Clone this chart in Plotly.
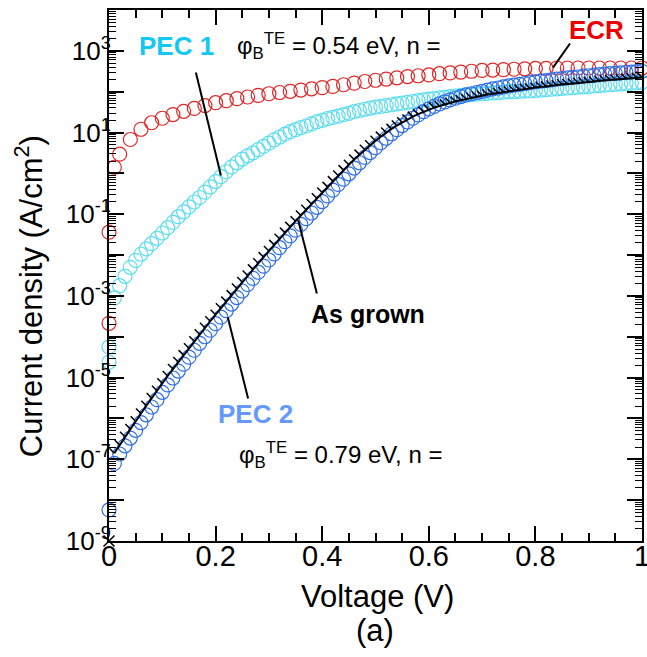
import plotly.graph_objects as go

# ---------------- data (log10 of current density, A/cm^2) ----------------
V_FINE = [0.01, 0.02, 0.03, 0.04, 0.05, 0.06, 0.07, 0.08, 0.09, 0.10,
          0.11, 0.12, 0.13, 0.14, 0.15, 0.16, 0.17, 0.18, 0.19, 0.20,
          0.21, 0.22, 0.23, 0.24, 0.25, 0.26, 0.27, 0.28, 0.29, 0.30,
          0.31, 0.32, 0.33, 0.34, 0.35, 0.36, 0.37, 0.38, 0.39, 0.40,
          0.41, 0.42, 0.43, 0.44, 0.45, 0.46, 0.47, 0.48, 0.49, 0.50,
          0.51, 0.52, 0.53, 0.54, 0.55, 0.56, 0.57, 0.58, 0.59, 0.60,
          0.61, 0.62, 0.63, 0.64, 0.65, 0.66, 0.67, 0.68, 0.69, 0.70,
          0.71, 0.72, 0.73, 0.74, 0.75, 0.76, 0.77, 0.78, 0.79, 0.80,
          0.81, 0.82, 0.83, 0.84, 0.85, 0.86, 0.87, 0.88, 0.89, 0.90,
          0.91, 0.92, 0.93, 0.94, 0.95, 0.96, 0.97, 0.98, 0.99, 1.00]

ECR_V = [0.01, 0.02, 0.04, 0.06, 0.08, 0.10, 0.12, 0.14, 0.16, 0.18, 0.20,
         0.22, 0.24, 0.26, 0.28, 0.30, 0.32, 0.34, 0.36, 0.38, 0.40,
         0.42, 0.44, 0.46, 0.48, 0.50, 0.52, 0.54, 0.56, 0.58, 0.60,
         0.62, 0.64, 0.66, 0.68, 0.70, 0.72, 0.74, 0.76, 0.78, 0.80,
         0.82, 0.84, 0.86, 0.88, 0.90, 0.92, 0.94, 0.96, 0.98, 1.00]
ECR_LOG = [0.15, 0.47, 0.83, 1.08, 1.24, 1.35, 1.44, 1.52, 1.59, 1.66, 1.73,
           1.78, 1.83, 1.87, 1.91, 1.95, 1.98, 2.01, 2.04, 2.07, 2.10,
           2.13, 2.17, 2.21, 2.25, 2.28, 2.31, 2.34, 2.37, 2.39, 2.41,
           2.44, 2.46, 2.48, 2.50, 2.52, 2.53, 2.54, 2.55, 2.56, 2.57,
           2.57, 2.58, 2.58, 2.58, 2.58, 2.58, 2.58, 2.58, 2.58, 2.58]
ECR_V0 = [0.0, 0.0]
ECR_LOG0 = [-1.44, -3.67]

PEC1_LOG = [-3.05, -2.75, -2.52, -2.30, -2.13, -1.98, -1.85, -1.72, -1.59, -1.46,
            -1.33, -1.20, -1.06, -0.94, -0.82, -0.70, -0.59, -0.46, -0.33, -0.20,
            -0.08, 0.04, 0.16, 0.26, 0.35, 0.43, 0.50, 0.58, 0.66, 0.74,
            0.82, 0.89, 0.96, 1.02, 1.07, 1.12, 1.16, 1.21, 1.26, 1.30,
            1.34, 1.37, 1.40, 1.44, 1.47, 1.51, 1.54, 1.57, 1.60, 1.62,
            1.64, 1.66, 1.68, 1.70, 1.72, 1.74, 1.76, 1.78, 1.80, 1.82,
            1.83, 1.85, 1.86, 1.88, 1.89, 1.91, 1.92, 1.93, 1.94, 1.95,
            1.96, 1.97, 1.98, 1.99, 2.00, 2.00, 2.01, 2.02, 2.02, 2.03,
            2.04, 2.05, 2.06, 2.07, 2.08, 2.09, 2.10, 2.11, 2.12, 2.13,
            2.14, 2.15, 2.16, 2.17, 2.18, 2.19, 2.20, 2.21, 2.22, 2.23]
PEC1_V0 = [0.0, 0.0]
PEC1_LOG0 = [-4.25, -4.62]

PEC2_LOG = [-7.10, -6.87, -6.67, -6.48, -6.29, -6.10, -5.91, -5.72, -5.54, -5.36,
            -5.18, -5.01, -4.84, -4.67, -4.50, -4.33, -4.16, -4.00, -3.84, -3.68,
            -3.52, -3.36, -3.20, -3.04, -2.88, -2.72, -2.57, -2.42, -2.27, -2.12,
            -1.97, -1.82, -1.67, -1.53, -1.39, -1.25, -1.11, -0.97, -0.83, -0.69,
            -0.55, -0.41, -0.27, -0.14, -0.01, 0.13, 0.26, 0.39, 0.51, 0.63,
            0.75, 0.86, 0.97, 1.07, 1.17, 1.26, 1.35, 1.43, 1.51, 1.58,
            1.64, 1.70, 1.75, 1.80, 1.84, 1.88, 1.92, 1.95, 1.98, 2.01,
            2.04, 2.07, 2.09, 2.12, 2.14, 2.16, 2.18, 2.20, 2.22, 2.24,
            2.26, 2.27, 2.29, 2.31, 2.32, 2.34, 2.35, 2.36, 2.38, 2.39,
            2.40, 2.42, 2.43, 2.44, 2.45, 2.46, 2.47, 2.48, 2.49, 2.50]
PEC2_V0 = [0.0]
PEC2_LOG0 = [-8.24]

ASG_LOG = [-6.85, -6.65, -6.45, -6.26, -6.07, -5.88, -5.69, -5.50, -5.32, -5.14,
           -4.96, -4.79, -4.62, -4.45, -4.28, -4.11, -3.94, -3.78, -3.62, -3.46,
           -3.30, -3.14, -2.98, -2.82, -2.66, -2.50, -2.35, -2.20, -2.05, -1.90,
           -1.75, -1.60, -1.45, -1.31, -1.17, -1.03, -0.89, -0.75, -0.61, -0.47,
           -0.33, -0.19, -0.05, 0.08, 0.21, 0.34, 0.46, 0.58, 0.69, 0.80,
           0.90, 1.00, 1.09, 1.17, 1.25, 1.32, 1.39, 1.45, 1.51, 1.56,
           1.61, 1.65, 1.69, 1.73, 1.76, 1.79, 1.82, 1.85, 1.88, 1.90,
           1.93, 1.95, 1.97, 1.99, 2.01, 2.03, 2.05, 2.07, 2.08, 2.10,
           2.12, 2.13, 2.15, 2.16, 2.18, 2.19, 2.20, 2.22, 2.23, 2.24,
           2.25, 2.27, 2.28, 2.29, 2.30, 2.31, 2.32, 2.33, 2.34, 2.35]
ASG_V0 = [0.0]
ASG_LOG0 = [-9.0]

X_TICKS = [0, 0.2, 0.4, 0.6, 0.8, 1.0]
X_TICK_TEXT = ["0", "0.2", "0.4", "0.6", "0.8", "1"]
Y_DECADES = [-9, -8, -7, -6, -5, -4, -3, -2, -1, 0, 1, 2, 3, 4]
Y_LABELED = [-9, -7, -5, -3, -1, 1, 3]

# ---------------- style ----------------
FONT = "Liberation Sans, Arial, sans-serif"
W, H = 647, 657
ML, MR, MT, MB = 109, 5, 10, 116
X_RANGE = [0, 1]
Y_RANGE = [-9, 4]
PX_PER_V = (W - ML - MR) / (X_RANGE[1] - X_RANGE[0])
PX_PER_DEC = (H - MT - MB) / (Y_RANGE[1] - Y_RANGE[0])

RED = "#E02626"
CYAN = "#5BDDF0"
BLUE = "#2F6FE6"
RED_TXT = "#EE0000"
CYAN_TXT = "#14C8F5"
BLUE_TXT = "#6699FF"


def lin(logs):
    return [10 ** v for v in logs]


def circles(color):
    return dict(symbol="circle-open", size=14, color=color, line=dict(width=1.2))


fig = go.Figure()

fig.add_trace(go.Scatter(x=ECR_V0 + ECR_V, y=lin(ECR_LOG0 + ECR_LOG), mode="markers",
                         marker=circles(RED), cliponaxis=False, showlegend=False))
fig.add_trace(go.Scatter(x=PEC1_V0 + V_FINE, y=lin(PEC1_LOG0 + PEC1_LOG), mode="markers",
                         marker=circles(CYAN), cliponaxis=False, showlegend=False))
fig.add_trace(go.Scatter(x=PEC2_V0 + V_FINE, y=lin(PEC2_LOG0 + PEC2_LOG), mode="markers",
                         marker=circles(BLUE), cliponaxis=False, showlegend=False))
# As grown: solid line with one-sided hair ticks
fig.add_trace(go.Scatter(x=V_FINE, y=lin(ASG_LOG), mode="lines",
                         line=dict(color="black", width=2), cliponaxis=False, showlegend=False))
TICK_OFF_PX = 2.5
fig.add_trace(go.Scatter(x=[v - TICK_OFF_PX / PX_PER_V for v in V_FINE],
                         y=lin([l + TICK_OFF_PX / PX_PER_DEC for l in ASG_LOG]),
                         mode="markers",
                         marker=dict(symbol="line-nw", size=5, color="black",
                                     line=dict(width=1.5, color="black")),
                         cliponaxis=False, showlegend=False))
fig.add_trace(go.Scatter(x=ASG_V0, y=lin(ASG_LOG0), mode="markers",
                         marker=dict(symbol="x-thin", size=11, color="black",
                                     line=dict(width=1.5, color="black")),
                         cliponaxis=False, showlegend=False))

axis_common = dict(showgrid=False, zeroline=False, showline=True, linecolor="black",
                   linewidth=2, mirror="ticks", ticks="inside", tickcolor="black",
                   tickwidth=1.5, automargin=False, ticklabeloverflow="allow")

fig.update_xaxes(range=X_RANGE, ticklen=15, tickmode="array", tickvals=X_TICKS,
                 ticktext=X_TICK_TEXT, tickfont=dict(family=FONT, size=29, color="black"),
                 ticklabelstandoff=-12,
                 minor=dict(ticks="inside", ticklen=8, tickwidth=1.5, tickcolor="black",
                            dtick=0.05, showgrid=False),
                 **axis_common)
fig.update_yaxes(type="log", range=Y_RANGE, ticklen=15, tickmode="array",
                 tickvals=[10 ** k for k in Y_DECADES],
                 ticktext=[("10<sup>%d</sup>" % k) if k in Y_LABELED else "" for k in Y_DECADES],
                 tickfont=dict(family=FONT, size=26, color="black"),
                 ticklabelstandoff=-9,
                 minor=dict(ticks="inside", ticklen=7, tickwidth=1.2, tickcolor="black",
                            dtick="D1", showgrid=False),
                 **axis_common)

ann = []


def text(x, y, s, size, color, bold=False, xanchor="center", xref="x", yref="y", angle=0):
    ann.append(dict(x=x, y=y, xref=xref, yref=yref, text=("<b>%s</b>" % s) if bold else s,
                    showarrow=False, xanchor=xanchor, yanchor="middle", textangle=angle,
                    font=dict(family=FONT, size=size, color=color)))


text(0.126, 3.12, "PEC 1", 26, CYAN_TXT, bold=True)
text(0.236, 3.12, "φ<sub>B</sub><sup>TE</sup> = 0.54 eV, n =", 24, "black", xanchor="left")
text(0.914, 3.52, "ECR", 26, RED_TXT, bold=True)
text(0.486, -3.45, "As grown", 25, "black", bold=True)
text(0.274, -5.90, "PEC 2", 26, BLUE_TXT, bold=True)
text(0.240, -6.90, "φ<sub>B</sub><sup>TE</sup> = 0.79 eV, n =", 24, "black", xanchor="left")

text(0.503, -0.105, "Voltage (V)", 31, "black", xref="paper", yref="paper")
text(0.499, -0.168, "(a)", 31, "black", xref="paper", yref="paper")
text(-0.150, 0.461, "Current density (A/cm<sup>2</sup>)", 31, "black",
     xref="paper", yref="paper", angle=-90)

# pointer lines: endpoints given as (voltage, log10 J), placed in paper fractions
POINTERS = [((0.163, 2.47), (0.210, -0.05)),
            ((0.865, 3.18), (0.833, 2.59)),
            ((0.390, -2.94), (0.355, -1.15)),
            ((0.261, -5.51), (0.223, -3.53))]


def px(v):
    return (v - X_RANGE[0]) / (X_RANGE[1] - X_RANGE[0])


def py(l):
    return (l - Y_RANGE[0]) / (Y_RANGE[1] - Y_RANGE[0])


shapes = [dict(type="line", xref="paper", yref="paper",
               x0=px(a[0]), y0=py(a[1]), x1=px(b[0]), y1=py(b[1]),
               line=dict(color="black", width=2)) for a, b in POINTERS]

fig.update_layout(width=W, height=H, autosize=False,
                  margin=dict(l=ML, r=MR, t=MT, b=MB, pad=0),
                  paper_bgcolor="white", plot_bgcolor="white",
                  annotations=ann, shapes=shapes, showlegend=False,
                  font=dict(family=FONT, color="black"))

fig.write_html("out.html")
